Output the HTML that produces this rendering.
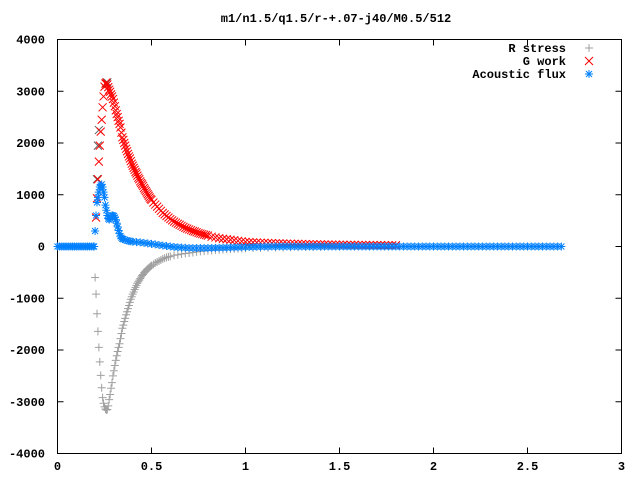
<!DOCTYPE html>
<html><head><meta charset="utf-8"><style>
body{margin:0;background:#fff}
svg{display:block}
text{font-family:"Liberation Mono",monospace;font-size:12px;font-weight:bold;fill:#000}
</style></head><body>
<svg id="chart" width="640" height="480">
<text x="336" y="22" text-anchor="middle">m1/n1.5/q1.5/r-+.07-j40/M0.5/512</text>
<rect x="57.5" y="39.5" width="564" height="414" fill="none" stroke="#000"/>
<g id="axes"></g>
<g id="series"></g>
<g id="legend">
<text x="566" y="52" text-anchor="end">R stress</text>
<text x="566" y="65" text-anchor="end">G work</text>
<text x="566" y="78" text-anchor="end">Acoustic flux</text>
</g>
</svg>
<script>
const xTicks=[0,0.5,1,1.5,2,2.5,3];
const xTickLabels=["0","0.5","1","1.5","2","2.5","3"];
const yTicks=[-4000,-3000,-2000,-1000,0,1000,2000,3000,4000];
const yTickLabels=["-4000","-3000","-2000","-1000","0","1000","2000","3000","4000"];
const gWork=[[0.205,560],[0.21,930],[0.215,1300],[0.22,1640],[0.225,1950],[0.23,2220],[0.235,2450],[0.24,2690],[0.245,2900],[0.25,3090],[0.255,3150],[0.26,3170],[0.265,3130],[0.27,3080],[0.275,3030],[0.28,2990],[0.285,2940],[0.29,2900],[0.295,2850],[0.3,2780],[0.305,2710],[0.31,2630],[0.315,2560],[0.32,2500],[0.325,2430],[0.33,2370],[0.335,2300],[0.34,2200],[0.345,2110],[0.35,2060],[0.355,2000],[0.36,1950],[0.365,1890],[0.37,1840],[0.375,1790],[0.38,1740],[0.385,1700],[0.39,1650],[0.395,1600],[0.4,1560],[0.405,1520],[0.41,1480],[0.415,1440],[0.42,1410],[0.425,1370],[0.43,1330],[0.435,1300],[0.44,1260],[0.445,1230],[0.45,1200],[0.455,1170],[0.46,1130],[0.465,1100],[0.47,1070],[0.475,1040],[0.48,1010],[0.485,980],[0.49,950],[0.495,920],[0.5,900],[0.51,850],[0.52,810],[0.53,770],[0.54,730],[0.55,690],[0.56,650],[0.57,620],[0.58,590],[0.59,560],[0.6,530],[0.61,505],[0.62,480],[0.63,460],[0.64,440],[0.65,420],[0.66,400],[0.67,380],[0.68,360],[0.69,345],[0.7,330],[0.71,315],[0.72,300],[0.73,290],[0.74,275],[0.75,260],[0.76,250],[0.77,240],[0.78,230],[0.79,220],[0.8,210],[0.82,190],[0.84,175],[0.86,160],[0.88,150],[0.9,140],[0.92,130],[0.94,120],[0.96,110],[0.98,100],[1.0,90],[1.02,85],[1.04,80],[1.06,77],[1.08,74],[1.1,71],[1.12,68],[1.14,65],[1.16,62],[1.18,60],[1.2,58],[1.22,56],[1.24,54],[1.26,52],[1.28,50],[1.3,48],[1.32,47],[1.34,45],[1.36,44],[1.38,42],[1.4,41],[1.42,40],[1.44,38],[1.46,37],[1.48,36],[1.5,35],[1.52,34],[1.54,33],[1.56,32],[1.58,31],[1.6,30],[1.62,30],[1.64,29],[1.66,28],[1.68,27],[1.7,27],[1.72,26],[1.74,25],[1.76,25],[1.78,24],[1.8,24]];
const rStress=[[0.2,-600],[0.205,-920],[0.21,-1300],[0.215,-1640],[0.22,-1950],[0.225,-2230],[0.23,-2490],[0.235,-2730],[0.24,-2920],[0.245,-3030],[0.25,-3100],[0.255,-3140],[0.26,-3160],[0.265,-3150],[0.27,-3080],[0.275,-2960],[0.28,-2860],[0.285,-2740],[0.29,-2630],[0.295,-2500],[0.3,-2400],[0.305,-2300],[0.31,-2200],[0.315,-2110],[0.32,-2030],[0.325,-1950],[0.33,-1880],[0.335,-1780],[0.34,-1680],[0.345,-1580],[0.35,-1520],[0.355,-1450],[0.36,-1390],[0.365,-1320],[0.37,-1260],[0.375,-1200],[0.38,-1140],[0.385,-1080],[0.39,-1020],[0.395,-970],[0.4,-920],[0.405,-880],[0.41,-830],[0.415,-790],[0.42,-750],[0.425,-710],[0.43,-680],[0.435,-650],[0.44,-620],[0.445,-590],[0.45,-560],[0.455,-540],[0.46,-510],[0.465,-490],[0.47,-470],[0.475,-450],[0.48,-430],[0.485,-420],[0.49,-400],[0.495,-385],[0.5,-370],[0.51,-345],[0.52,-320],[0.53,-300],[0.54,-280],[0.55,-260],[0.56,-240],[0.57,-225],[0.58,-210],[0.59,-200],[0.6,-190],[0.62,-170],[0.64,-160],[0.66,-145],[0.68,-135],[0.7,-125],[0.72,-115],[0.74,-105],[0.76,-95],[0.78,-88],[0.8,-80],[0.82,-74],[0.84,-68],[0.86,-62],[0.88,-57],[0.9,-52],[0.92,-48],[0.94,-44],[0.96,-40],[0.98,-37],[1.0,-34],[1.04,-30],[1.08,-26],[1.12,-22],[1.16,-19],[1.2,-16],[1.24,-14],[1.28,-12],[1.32,-10],[1.36,-9],[1.4,-8]];
const darkX=[[0.21,1300],[0.215,1950],[0.22,2250],[0.26,3150],[0.265,3170]];
const acoustic=[[0,0],[0.01,0],[0.02,0],[0.03,0],[0.04,0],[0.05,0],[0.06,0],[0.07,0],[0.08,0],[0.09,0],[0.1,0],[0.11,0],[0.12,0],[0.13,0],[0.14,0],[0.15,0],[0.16,0],[0.17,0],[0.18,0],[0.19,0],[0.195,0],[0.2,300],[0.205,600],[0.21,850],[0.215,950],[0.22,1050],[0.225,1150],[0.23,1180],[0.235,1200],[0.24,1150],[0.245,1050],[0.25,950],[0.255,800],[0.26,700],[0.265,600],[0.27,540],[0.275,520],[0.28,540],[0.285,580],[0.29,600],[0.295,600],[0.3,590],[0.305,560],[0.31,520],[0.315,450],[0.32,380],[0.325,310],[0.33,250],[0.335,200],[0.34,170],[0.345,150],[0.35,140],[0.36,125],[0.37,115],[0.38,105],[0.39,100],[0.4,95],[0.42,85],[0.44,80],[0.46,70],[0.48,60],[0.5,50],[0.52,40],[0.54,30],[0.56,20],[0.58,10],[0.6,0],[0.62,-10],[0.64,-15],[0.66,-20],[0.68,-25],[0.7,-28],[0.72,-30],[0.74,-30],[0.76,-30],[0.78,-30],[0.8,-30],[0.82,-28],[0.84,-27],[0.86,-25],[0.88,-23],[0.9,-21],[0.92,-19],[0.94,-17],[0.96,-15],[0.98,-13],[1.0,-11],[1.02,-9],[1.04,-7],[1.06,-5],[1.08,-4],[1.1,-3],[1.12,-2],[1.14,-1],[1.16,0],[1.18,0],[1.2,0],[1.22,0],[1.24,0],[1.26,0],[1.28,0],[1.3,0],[1.32,0],[1.34,0],[1.36,0],[1.38,0],[1.4,0],[1.42,0],[1.44,0],[1.46,0],[1.48,0],[1.5,0],[1.52,0],[1.54,0],[1.56,0],[1.58,0],[1.6,0],[1.62,0],[1.64,0],[1.66,0],[1.68,0],[1.7,0],[1.72,0],[1.74,0],[1.76,0],[1.78,0],[1.8,0],[1.82,0],[1.84,0],[1.86,0],[1.88,0],[1.9,0],[1.92,0],[1.94,0],[1.96,0],[1.98,0],[2.0,0],[2.02,0],[2.04,0],[2.06,0],[2.08,0],[2.1,0],[2.12,0],[2.14,0],[2.16,0],[2.18,0],[2.2,0],[2.22,0],[2.24,0],[2.26,0],[2.28,0],[2.3,0],[2.32,0],[2.34,0],[2.36,0],[2.38,0],[2.4,0],[2.42,0],[2.44,0],[2.46,0],[2.48,0],[2.5,0],[2.52,0],[2.54,0],[2.56,0],[2.58,0],[2.6,0],[2.62,0],[2.64,0],[2.66,0],[2.68,0]];

const NS="http://www.w3.org/2000/svg";
const X0=57.5,X1=621.5,Y0=453.5,Y1=39.5;
const sx=v=>X0+(v-0)/(3-0)*(X1-X0);
const sy=v=>Y0-(v+4000)/8000*(Y0-Y1);
const axes=document.getElementById('axes');
const ser=document.getElementById('series');
function mk(tag,attrs,parent){const e=document.createElementNS(NS,tag);for(const k in attrs)e.setAttribute(k,attrs[k]);parent.appendChild(e);return e;}
xTicks.forEach((v,i)=>{
 const x=sx(v);
 const t1=mk('line',{x1:x,x2:x,y1:Y0,y2:Y0-6,stroke:'#000'},axes);
 
 
 const t2=mk('line',{x1:x,x2:x,y1:Y1,y2:Y1+6,stroke:'#000'},axes);
 
 
 const tx=mk('text',{x:x,y:470,'text-anchor':'middle'},axes);tx.textContent=xTickLabels[i];
 
 
});
yTicks.forEach((v,i)=>{
 const y=sy(v);
 const t1=mk('line',{x1:X0,x2:X0+6,y1:y,y2:y,stroke:'#000'},axes);
 
 
 const t2=mk('line',{x1:X1,x2:X1-6,y1:y,y2:y,stroke:'#000'},axes);
 
 
 const tx=mk('text',{x:45,y:y+4,'text-anchor':'end'},axes);tx.textContent=yTickLabels[i];
 
 
});
function plus(x,y,c,g){mk('path',{d:`M${x-4},${y}h8M${x},${y-4}v8`,stroke:c,fill:'none'},g);}
function cross(x,y,c,g){mk('path',{d:`M${x-4},${y-4}l8,8M${x-4},${y+4}l8,-8`,stroke:c,fill:'none'},g);}
function star(x,y,c,g){mk('path',{d:`M${x-4},${y}h8M${x},${y-4}v8M${x-3},${y-3}l6,6M${x-3},${y+3}l6,-6`,stroke:c,fill:'none'},g);}
function series(data,fn,c,name){
 const g=mk('g',{},ser);
 
 
 data.forEach(p=>fn(sx(p[0]),sy(p[1]),c,g));
}
series(rStress,plus,'#a0a0a0','r-stress-series');
series(darkX,cross,'#606060','r-stress-abs-points');
series(gWork,cross,'#ff0000','g-work-series');
series(acoustic,star,'#0080ff','acoustic-flux-series');
const lg=document.getElementById('legend');
const m1=mk('g',{},lg);plus(589,48,'#a0a0a0',m1);
const m2=mk('g',{},lg);cross(589,61,'#ff0000',m2);
const m3=mk('g',{},lg);star(589,74,'#0080ff',m3);
</script>
</body></html>
